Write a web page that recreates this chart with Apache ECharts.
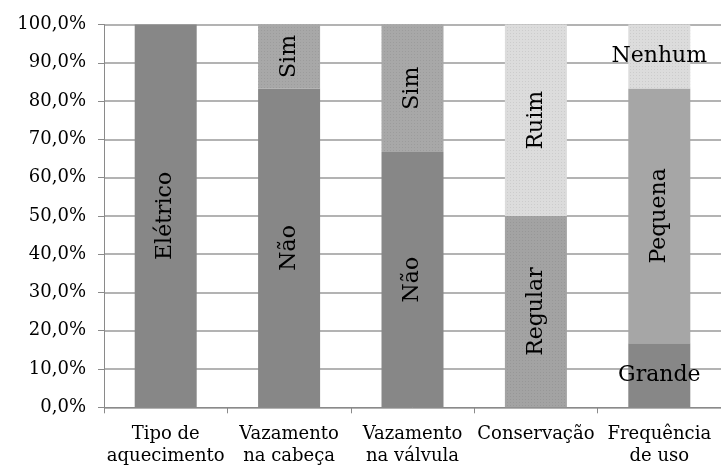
<!DOCTYPE html>
<html>
<head>
<meta charset="utf-8">
<script src="https://cdn.jsdelivr.net/npm/echarts@6/dist/echarts.min.js"></script>
<style>
  html, body { margin: 0; padding: 0; background: #fff; }
  #chart { width: 721px; height: 474px; }
</style>
</head>
<body>
<div id="chart"></div>
<script>
// categories (x axis)
const categories = [
  "Tipo de\naquecimento",
  "Vazamento\nna cabeça",
  "Vazamento\nna válvula",
  "Conservação",
  "Frequência\nde uso",
];
// stacked shares, bottom -> top (percent)
const bottomValues = [100, 83.3, 66.7, 50, 16.7];
const bottomNames = ["Elétrico", "Não", "Não", "Regular", "Grande"];
const middleValues = [null, 16.7, 33.3, 50, 66.6];
const middleNames = [null, "Sim", "Sim", "Ruim", "Pequena"];
const topValues = [null, null, null, null, 16.7];
const topNames = [null, null, null, null, "Nenhum"];
const yTicks = [0, 10, 20, 30, 40, 50, 60, 70, 80, 90, 100];

const colBottom = ["#878787", "#878787", "#878787", "#a3a3a3", "#878787"];
const colMiddle = [null, "#a8a8a8", "#a8a8a8", "#dcdcdc", "#a6a6a6"];
const colTop = [null, null, null, null, "#dcdcdc"];
const dotted = [false, false, false, true, false];
const dottedMid = [false, true, true, true, false];

const serif = "DejaVu Serif";
const dots = {
  symbol: "rect",
  symbolSize: 1,
  dashArrayX: [1, 2],
  dashArrayY: [1, 2],
  color: "rgba(0,0,0,0.07)",
};

function makeData(values, names, colors, dotFlags, horizontal) {
  return values.map((v, i) => {
    if (v == null) return null;
    const item = {
      value: v,
      name: names[i],
      itemStyle: { color: colors[i] },
      label: { formatter: names[i] },
    };
    if (dotFlags && dotFlags[i]) item.itemStyle.decal = dots;
    if (horizontal && horizontal[i]) item.label.rotate = 0;
    return item;
  });
}

const labelStyle = {
  show: true,
  position: "inside",
  rotate: 90,
  fontFamily: serif,
  fontSize: 22,
  color: "#000",
};

const myChart = echarts.init(document.getElementById("chart"));
myChart.setOption({
  animation: false,
  grid: { left: 104, top: 24.5, bottom: 66.7, right: -5.5, containLabel: false },
  xAxis: {
    type: "category",
    data: categories,
    axisLine: { lineStyle: { color: "#8a8a8a", width: 1 } },
    axisTick: { show: true, length: 6, lineStyle: { color: "#8a8a8a" } },
    axisLabel: {
      fontFamily: serif,
      fontSize: 18,
      color: "#000",
      lineHeight: 22,
      margin: 16,
      interval: 0,
    },
  },
  yAxis: {
    type: "value",
    min: yTicks[0],
    max: yTicks[yTicks.length - 1],
    interval: yTicks[1] - yTicks[0],
    axisLine: { show: true, lineStyle: { color: "#8a8a8a" } },
    axisTick: { show: true, length: 6, lineStyle: { color: "#8a8a8a" } },
    splitLine: { lineStyle: { color: "#9a9a9a", width: 1.5 } },
    axisLabel: {
      fontFamily: serif,
      fontSize: 18,
      color: "#000",
      margin: 18,
      formatter: (v) => v.toFixed(1).replace(".", ",") + "%",
    },
  },
  series: [
    {
      type: "bar",
      stack: "total",
      barWidth: 62,
      label: labelStyle,
      data: makeData(bottomValues, bottomNames, colBottom, dotted, [false, false, false, false, true]),
    },
    {
      type: "bar",
      stack: "total",
      barWidth: 62,
      label: labelStyle,
      data: makeData(middleValues, middleNames, colMiddle, dottedMid, null),
    },
    {
      type: "bar",
      stack: "total",
      barWidth: 62,
      label: labelStyle,
      data: makeData(topValues, topNames, colTop, [false, false, false, false, true], [false, false, false, false, true]),
    },
  ],
});
</script>
</body>
</html>
